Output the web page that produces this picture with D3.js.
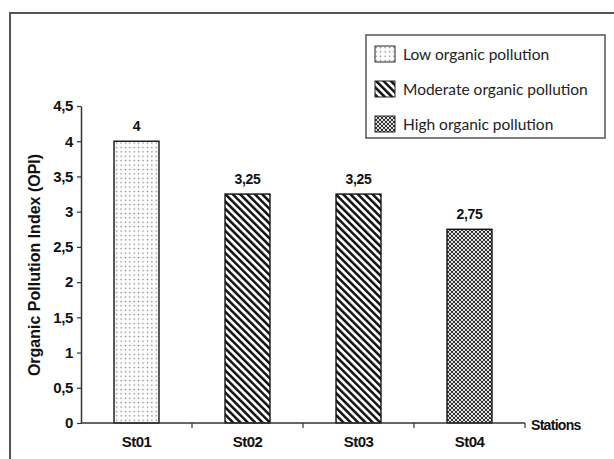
<!DOCTYPE html>
<html>
<head>
<meta charset="utf-8">
<script src="https://cdn.jsdelivr.net/npm/d3@7/dist/d3.min.js"></script>
<style>
  html, body { margin: 0; padding: 0; background: #fff; }
  svg { display: block; }
</style>
</head>
<body>
<svg id="chart" width="614" height="459"></svg>
<script>
// Organic Pollution Index per sampling station
const stations = ["St01", "St02", "St03", "St04"];
const opiValues = [4, 3.25, 3.25, 2.75];
const pollutionClass = ["low", "moderate", "moderate", "high"];
const yTicks = [0, 0.5, 1, 1.5, 2, 2.5, 3, 3.5, 4, 4.5];
const legendKeys = ["low", "moderate", "high"];
const legendLabels = ["Low organic pollution", "Moderate organic pollution", "High organic pollution"];

const svg = d3.select("#chart");
const comma = v => String(v).replace(".", ",");

// ---- fill patterns ----
const defs = svg.append("defs");

const low = defs.append("pattern").attr("id", "pat-low")
  .attr("patternUnits", "userSpaceOnUse").attr("width", 4.4).attr("height", 4.4);
low.append("rect").attr("width", 4.4).attr("height", 4.4).attr("fill", "#fff");
low.append("rect").attr("x", 1.6).attr("y", 1.6).attr("width", 1.3).attr("height", 1.3).attr("fill", "#777");

const mod = defs.append("pattern").attr("id", "pat-moderate")
  .attr("patternUnits", "userSpaceOnUse").attr("width", 5.2).attr("height", 10)
  .attr("patternTransform", "rotate(-45)");
mod.append("rect").attr("width", 5.2).attr("height", 10).attr("fill", "#fff");
mod.append("rect").attr("x", 0).attr("y", 0).attr("width", 2.5).attr("height", 10).attr("fill", "#111");

const high = defs.append("pattern").attr("id", "pat-high")
  .attr("patternUnits", "userSpaceOnUse").attr("width", 4).attr("height", 4);
high.append("rect").attr("width", 4).attr("height", 4).attr("fill", "#fff");
[[0, 0], [2, 2], [4, 0], [0, 4], [4, 4]].forEach(([cx, cy]) =>
  high.append("circle").attr("cx", cx).attr("cy", cy).attr("r", 1.15).attr("fill", "#222"));

// ---- outer frame ----
svg.append("rect")
  .attr("x", 10).attr("y", 13).attr("width", 640).attr("height", 480)
  .attr("fill", "none").attr("stroke", "#555").attr("stroke-width", 2);

// ---- scales ----
const x = d3.scaleBand().domain(stations).range([81, 525])
  .paddingInner(0.595).paddingOuter(0.2975);
const y = d3.scaleLinear().domain([0, 4.5]).range([423, 106]);

const axisFont = "'Liberation Sans', Arial, sans-serif";

// ---- bars ----
svg.append("g").selectAll("rect")
  .data(stations)
  .join("rect")
  .attr("x", d => x(d))
  .attr("y", (d, i) => y(opiValues[i]))
  .attr("width", x.bandwidth())
  .attr("height", (d, i) => y(0) - y(opiValues[i]))
  .attr("fill", (d, i) => `url(#pat-${pollutionClass[i]})`)
  .attr("stroke", "#111").attr("stroke-width", 1.4);

// value labels
svg.append("g").selectAll("text")
  .data(stations)
  .join("text")
  .attr("x", d => x(d) + x.bandwidth() / 2)
  .attr("y", (d, i) => y(opiValues[i]) - 10)
  .attr("text-anchor", "middle")
  .attr("font-family", axisFont).attr("font-weight", "bold").attr("font-size", 14)
  .attr("letter-spacing", -0.3)
  .attr("fill", "#111")
  .text((d, i) => comma(opiValues[i]));

// ---- y axis ----
const yAxis = svg.append("g").attr("transform", "translate(81,0)")
  .call(d3.axisLeft(y).tickValues(yTicks).tickFormat(comma).tickSize(4).tickSizeOuter(0).tickPadding(4));
yAxis.select(".domain").attr("stroke", "#333").attr("stroke-width", 1.5);
yAxis.selectAll(".tick line").attr("stroke", "#333").attr("stroke-width", 1.2);
yAxis.selectAll(".tick text")
  .attr("font-family", axisFont).attr("font-weight", "bold").attr("font-size", 15)
  .attr("letter-spacing", -0.4).attr("fill", "#111");

// ---- x axis ----
const xAxis = svg.append("g");
xAxis.append("line")
  .attr("x1", x.range()[0]).attr("x2", x.range()[1])
  .attr("y1", y(0)).attr("y2", y(0))
  .attr("stroke", "#333").attr("stroke-width", 1.5);
const bounds = d3.range(1, stations.length + 1).map(i => x.range()[0] + i * x.step());
xAxis.selectAll(".xt").data(bounds).join("line")
  .attr("x1", d => d).attr("x2", d => d)
  .attr("y1", y(0)).attr("y2", y(0) + 5)
  .attr("stroke", "#333").attr("stroke-width", 1.2);
xAxis.selectAll(".xl").data(stations).join("text")
  .attr("x", d => x(d) + x.bandwidth() / 2)
  .attr("y", 447)
  .attr("text-anchor", "middle")
  .attr("font-family", axisFont).attr("font-weight", "bold").attr("font-size", 15)
  .attr("letter-spacing", -0.6)
  .attr("fill", "#111")
  .text(d => d);
svg.append("text")
  .attr("x", 531).attr("y", 430)
  .attr("font-family", axisFont).attr("font-weight", "bold").attr("font-size", 14)
  .attr("letter-spacing", -0.7)
  .attr("fill", "#111")
  .text("Stations");

// y axis title
svg.append("text")
  .attr("transform", "translate(40,265) rotate(-90)")
  .attr("text-anchor", "middle")
  .attr("font-family", axisFont).attr("font-weight", "bold").attr("font-size", 16)
  .attr("fill", "#111")
  .text("Organic Pollution Index (OPI)");

// ---- legend ----
const legend = svg.append("g");
legend.append("rect")
  .attr("x", 366).attr("y", 35).attr("width", 239).attr("height", 103)
  .attr("fill", "#fff").attr("stroke", "#555").attr("stroke-width", 1.5);
const rowY = d3.scalePoint().domain(legendKeys).range([54, 124]);
const rows = legend.selectAll(".row").data(legendKeys).join("g")
  .attr("transform", d => `translate(0,${rowY(d)})`);
rows.append("rect")
  .attr("x", 375).attr("y", -8).attr("width", 20).attr("height", 16)
  .attr("fill", d => `url(#pat-${d})`)
  .attr("stroke", "#222").attr("stroke-width", 1);
rows.append("text")
  .attr("x", 403).attr("y", 5.5)
  .attr("font-family", "Lato, 'Open Sans', sans-serif").attr("font-size", 15.5)
  .attr("fill", "#222")
  .text((d, i) => legendLabels[i]);
</script>
</body>
</html>
